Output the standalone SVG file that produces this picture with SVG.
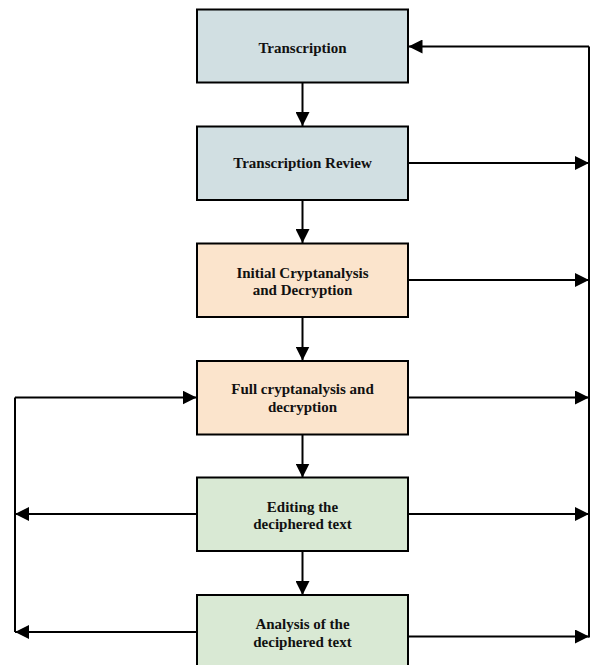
<svg xmlns="http://www.w3.org/2000/svg" width="590" height="665" viewBox="0 0 590 665">
  <style>
    .box { stroke: #000; stroke-width: 2; }
    .blue { fill: #d1dfe2; }
    .peach { fill: #fbe4cc; }
    .green { fill: #d9e9d4; }
    .label { font-family: "Liberation Serif", "Times New Roman", serif; font-weight: bold; font-size: 15px; fill: #111; text-anchor: middle; }
    .wire { stroke: #000; stroke-width: 2; fill: none; }
  </style>
  <defs>
    <marker id="arrow" markerUnits="userSpaceOnUse" markerWidth="15" markerHeight="14" refX="14" refY="7" orient="auto">
      <path d="M0,0 L14,7 L0,14 Z" fill="#000"/>
    </marker>
  </defs>

  <rect width="590" height="665" fill="#fff"/>

  <g id="connectors">
    <!-- main downward flow -->
    <line class="wire" x1="302.5" y1="83" x2="302.5" y2="126" marker-end="url(#arrow)"/>
    <line class="wire" x1="302.5" y1="200" x2="302.5" y2="243" marker-end="url(#arrow)"/>
    <line class="wire" x1="302.5" y1="317" x2="302.5" y2="360.5" marker-end="url(#arrow)"/>
    <line class="wire" x1="302.5" y1="434.5" x2="302.5" y2="477.5" marker-end="url(#arrow)"/>
    <line class="wire" x1="302.5" y1="551" x2="302.5" y2="595" marker-end="url(#arrow)"/>

    <!-- right-hand return bus -->
    <line class="wire" x1="589" y1="46.5" x2="589" y2="637.5"/>
    <line class="wire" x1="589" y1="46.5" x2="408.5" y2="46.5" marker-end="url(#arrow)"/>
    <line class="wire" x1="408" y1="163" x2="589" y2="163" marker-end="url(#arrow)"/>
    <line class="wire" x1="408" y1="280" x2="589" y2="280" marker-end="url(#arrow)"/>
    <line class="wire" x1="408" y1="397.5" x2="589" y2="397.5" marker-end="url(#arrow)"/>
    <line class="wire" x1="408" y1="514" x2="589" y2="514" marker-end="url(#arrow)"/>
    <line class="wire" x1="408" y1="636.5" x2="589" y2="636.5" marker-end="url(#arrow)"/>

    <!-- left-hand feedback bus -->
    <line class="wire" x1="15" y1="397.5" x2="15" y2="632"/>
    <line class="wire" x1="15" y1="397.5" x2="196.5" y2="397.5" marker-end="url(#arrow)"/>
    <line class="wire" x1="197" y1="514" x2="15" y2="514" marker-end="url(#arrow)"/>
    <line class="wire" x1="197" y1="632" x2="15" y2="632" marker-end="url(#arrow)"/>
  </g>

  <g id="transcription">
    <rect class="box blue" x="197" y="9.5" width="211" height="73"/>
    <text class="label" x="302.5" y="52.5">Transcription</text>
  </g>

  <g id="transcription-review">
    <rect class="box blue" x="197" y="126.5" width="211" height="73.5"/>
    <text class="label" x="302.5" y="168">Transcription Review</text>
  </g>

  <g id="initial-cryptanalysis">
    <rect class="box peach" x="197" y="243.5" width="211" height="73.5"/>
    <text class="label" x="302.5" y="277.5">Initial Cryptanalysis</text>
    <text class="label" x="302.5" y="295">and Decryption</text>
  </g>

  <g id="full-cryptanalysis">
    <rect class="box peach" x="197" y="361" width="211" height="73.5"/>
    <text class="label" x="302.5" y="394">Full cryptanalysis and</text>
    <text class="label" x="302.5" y="412">decryption</text>
  </g>

  <g id="editing">
    <rect class="box green" x="197" y="477.5" width="211" height="73.5"/>
    <text class="label" x="302.5" y="512">Editing the</text>
    <text class="label" x="302.5" y="529">deciphered text</text>
  </g>

  <g id="analysis">
    <rect class="box green" x="197" y="595" width="211" height="74"/>
    <text class="label" x="302.5" y="629">Analysis of the</text>
    <text class="label" x="302.5" y="646.5">deciphered text</text>
  </g>
</svg>
